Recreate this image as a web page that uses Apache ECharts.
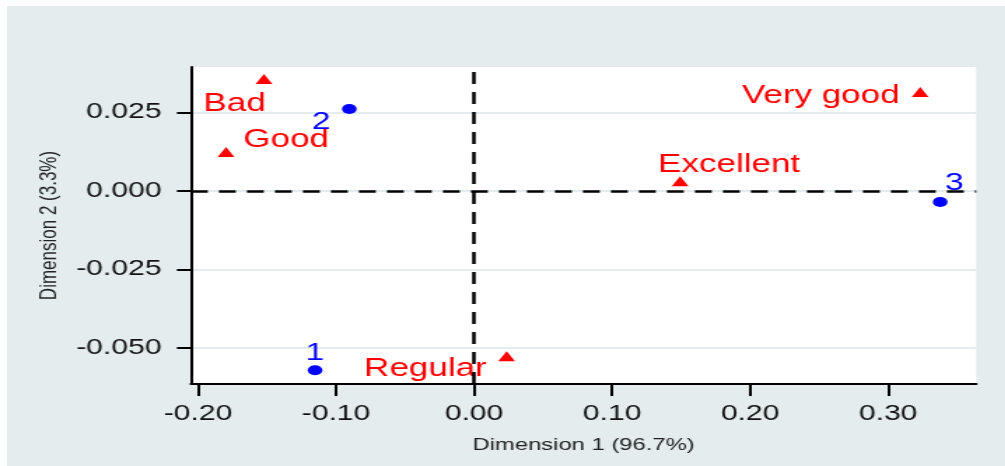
<!DOCTYPE html>
<html>
<head>
<meta charset="utf-8">
<script src="https://cdn.jsdelivr.net/npm/echarts@6/dist/echarts.min.js"></script>
<style>
  html, body { margin: 0; padding: 0; background: #fff; }
  /* the reference picture is stretched sideways, so draw narrow and widen */
  #main {
    position: absolute;
    left: 7px;
    top: 6px;
    width: 712.857px;
    height: 460px;
    transform: scaleX(1.4);
    transform-origin: 0 0;
  }
</style>
</head>
<body>
<div id="main"></div>
<script>
// row points (blue)
const rowNames = ['1', '2', '3']
const rowX = [-0.1152, -0.0904, 0.3377]
const rowY = [-0.0571, 0.0261, -0.0035]

// column points (red)
const colNames = ['Bad', 'Good', 'Regular', 'Very good', 'Excellent']
const colX = [-0.1522, -0.1797, 0.0236, 0.3232, 0.1493]
const colY = [0.0357, 0.0124, -0.0526, 0.0315, 0.0031]

// axis ticks
const xTicks = [-0.2, -0.1, 0, 0.1, 0.2, 0.3]
const yTicks = [-0.05, -0.025, 0, 0.025]

// where each marker label sits relative to its marker
const labelOffset = {
  '1': [0, -17],
  '2': [-20, 13],
  '3': [10, -19],
  'Bad': [-21, 25],
  'Good': [43, -12],
  'Regular': [-58, 13],
  'Very good': [-71, 4],
  'Excellent': [35, -16]
}

const font = "'Liberation Sans', Arial, sans-serif"

function points(names, xs, ys) {
  return names.map((n, i) => ({
    name: n,
    value: [xs[i], ys[i]],
    label: { offset: labelOffset[n] }
  }))
}

var chart = echarts.init(document.getElementById('main'))
var option = {
  backgroundColor: '#e4ecee',
  animation: false,
  grid: {
    left: 131.4,
    right: 20.7,
    top: 61,
    bottom: 82,
    show: true,
    backgroundColor: '#ffffff',
    borderWidth: 0
  },
  xAxis: {
    type: 'value',
    min: -0.2051,
    max: 0.3638,
    name: 'Dimension 1 (96.7%)',
    nameLocation: 'middle',
    nameGap: 53,
    nameTextStyle: { fontFamily: font, fontSize: 17, color: '#222' },
    axisLine: { onZero: false, lineStyle: { color: '#000', width: 2 } },
    axisTick: { customValues: xTicks, length: 12, lineStyle: { color: '#000', width: 2 } },
    axisLabel: {
      customValues: xTicks,
      margin: 19,
      fontFamily: font,
      fontSize: 21.5,
      color: '#111',
      formatter: v => v.toFixed(2)
    },
    splitLine: { show: false }
  },
  yAxis: {
    type: 'value',
    min: -0.06146,
    max: 0.03949,
    name: 'Dimension 2 (3.3%)',
    nameLocation: 'middle',
    nameGap: 86,
    nameTextStyle: { fontFamily: font, fontSize: 17, color: '#222' },
    axisLine: { onZero: false, lineStyle: { color: '#000', width: 2 } },
    axisTick: { customValues: yTicks, length: 10, lineStyle: { color: '#000', width: 2 } },
    axisLabel: {
      customValues: yTicks,
      margin: 21,
      fontFamily: font,
      fontSize: 21.5,
      color: '#111',
      formatter: v => v.toFixed(3)
    },
    splitLine: { show: true, lineStyle: { color: '#e3ecee', width: 2 } }
  },
  series: [
    {
      name: 'columns',
      type: 'scatter',
      symbol: 'triangle',
      symbolSize: [12, 10],
      itemStyle: { color: '#ff0000', opacity: 1 },
      label: {
        show: true,
        position: 'inside',
        align: 'center',
        verticalAlign: 'middle',
        formatter: p => p.name,
        fontFamily: font,
        fontSize: 25,
        color: '#ff0000',
        opacity: 1
      },
      data: points(colNames, colX, colY),
      markLine: {
        silent: true,
        symbol: ['none', 'none'],
        label: { show: false },
        lineStyle: { color: '#000', width: 2.5, type: [12, 8], opacity: 1 },
        data: [{ yAxis: 0 }, { xAxis: 0 }]
      }
    },
    {
      name: 'rows',
      type: 'scatter',
      symbol: 'circle',
      symbolSize: [10.5, 10],
      itemStyle: { color: '#0000ff', opacity: 1 },
      label: {
        show: true,
        position: 'inside',
        align: 'center',
        verticalAlign: 'middle',
        formatter: p => p.name,
        fontFamily: font,
        fontSize: 24,
        color: '#0000ff',
        opacity: 1
      },
      data: points(rowNames, rowX, rowY)
    }
  ]
}
chart.setOption(option)
</script>
</body>
</html>
